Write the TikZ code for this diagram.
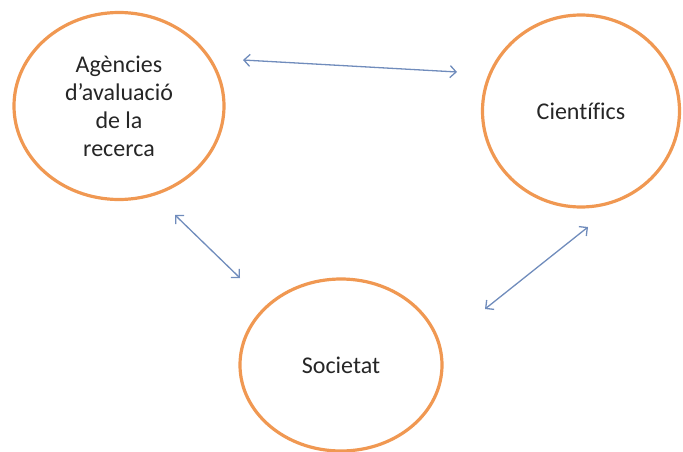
\documentclass[tikz,border=0pt]{standalone}
\usepackage{fontspec}
\setmainfont{Carlito}[Ligatures=CommonOff]
\usetikzlibrary{arrows.meta,shapes.geometric}

\definecolor{ringorange}{RGB}{240,152,82}
\definecolor{linkblue}{RGB}{112,140,188}

\tikzset{
	actor/.style={ellipse,draw=ringorange,line width=3.2pt,inner sep=0pt,
		align=center,text=black!85,font=\fontsize{24}{28}\selectfont},
	link/.style={linkblue,line width=1.3pt,
		{Straight Barb[length=6pt,width=12pt]}-{Straight Barb[length=6pt,width=12pt]}}
}

\begin{document}
\begin{tikzpicture}[x=1pt,y=-1pt]
	\useasboundingbox (0,0) rectangle (683,452);
	
	% the three parties
	\node[actor,minimum width=210pt,minimum height=187pt] (agencies) at (119,106) {Agències\\d’avaluació\\de la\\recerca};
	\node[actor,minimum width=197pt,minimum height=192pt] (cientifics) at (581,111) {Científics};
	\node[actor,minimum width=202pt,minimum height=172pt] (societat) at (341,365) {Societat};
	
	% free ends of the links
	\coordinate (ac1) at (243,60);
	\coordinate (ac2) at (457,72);
	\coordinate (as1) at (175,215);
	\coordinate (as2) at (240,278);
	\coordinate (cs1) at (588,227);
	\coordinate (cs2) at (485,309);
	
	\draw[link] (ac1)--(ac2);
	\draw[link] (as1)--(as2);
	\draw[link] (cs1)--(cs2);
	
\end{tikzpicture}
\end{document}
